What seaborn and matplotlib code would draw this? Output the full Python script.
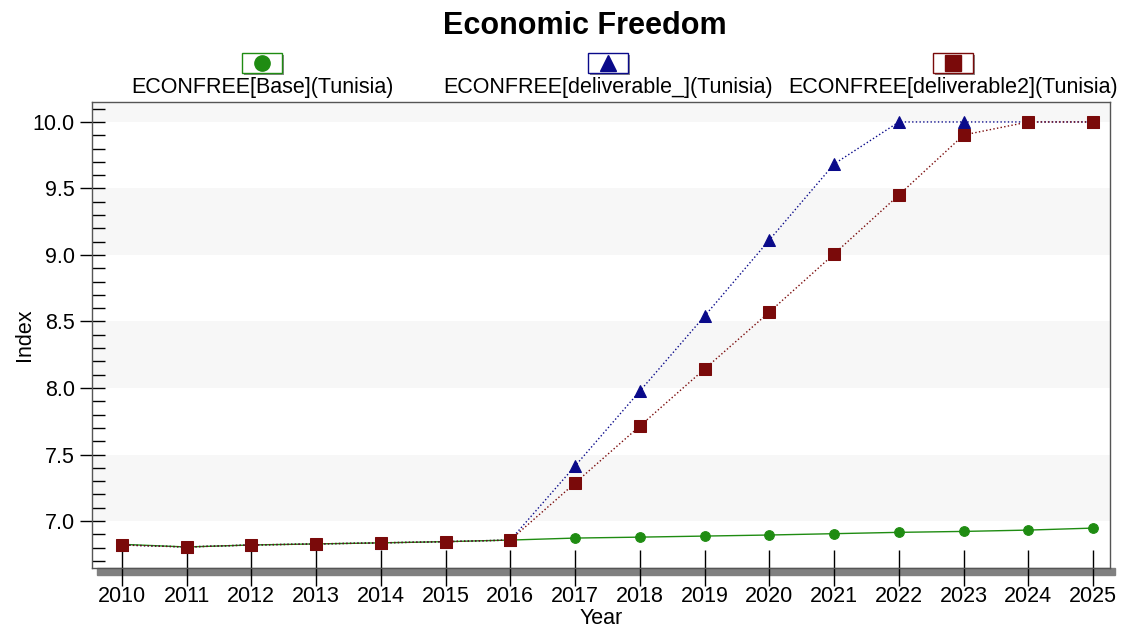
import numpy as np
import pandas as pd
import seaborn as sns
import matplotlib.pyplot as plt
from matplotlib.patches import Rectangle
from matplotlib.lines import Line2D
from matplotlib.ticker import MultipleLocator

years = list(range(2010, 2026))
base = [6.825, 6.805, 6.82, 6.828, 6.836, 6.845, 6.857, 6.872, 6.879, 6.887,
        6.895, 6.905, 6.915, 6.922, 6.932, 6.947]
deliverable = [6.82, 6.805, 6.82, 6.828, 6.836, 6.845, 6.857, 7.414, 7.977, 8.541,
               9.113, 9.684, 10.0, 10.0, 10.0, 10.0]
deliverable2 = [6.82, 6.805, 6.82, 6.828, 6.836, 6.845, 6.857, 7.286, 7.714, 8.143,
                8.571, 9.008, 9.451, 9.902, 10.0, 10.0]

labels = ["ECONFREE[Base](Tunisia)", "ECONFREE[deliverable_](Tunisia)",
          "ECONFREE[deliverable2](Tunisia)"]
colors = ["#1f8c12", "#0a0a8a", "#7a0a0a"]
markers = ["o", "^", "s"]
styles = ["-", ":", ":"]

sns.set_style("white")
plt.rcParams['font.family'] = ['Liberation Sans', 'DejaVu Sans']
plt.rcParams['text.color'] = 'black'
plt.rcParams['axes.labelcolor'] = 'black'
plt.rcParams['xtick.color'] = 'black'
plt.rcParams['ytick.color'] = 'black'

fig = plt.figure(figsize=(11.26, 6.28), dpi=100)
ax = fig.add_axes([92 / 1126, 1 - 568 / 628, (1110 - 92) / 1126, (568 - 102) / 628])

# alternating bands
for lo in [7.0, 8.0, 9.0, 10.0]:
    ax.axhspan(lo, lo + 0.5, color="#f7f7f7", zorder=0, lw=0)

series = [base, deliverable, deliverable2]
for i in range(3):
    df = pd.DataFrame({"Year": years, "Index": series[i]})
    sns.lineplot(data=df, x="Year", y="Index", ax=ax, color=colors[i],
                 linestyle=styles[i], lw=1, marker=markers[i], markersize=8 if i != 0 else 7,
                 markeredgecolor=colors[i], zorder=3 + i)

ax.set_xlim(2009.54, 2025.26)
ax.set_ylim(6.647, 10.15)
ax.set_xticks(years)
ax.yaxis.set_major_locator(MultipleLocator(0.5))
ax.yaxis.set_minor_locator(MultipleLocator(0.1))
ax.yaxis.set_major_formatter(plt.FuncFormatter(lambda v, p: f"{v:.1f}"))
ax.tick_params(axis="x", direction="inout", length=26, width=1, labelsize=15.5, pad=0, bottom=True)
ax.tick_params(axis="y", which="major", direction="inout", length=18, width=1, labelsize=15.5, left=True)
ax.tick_params(axis="y", which="minor", direction="in", length=9, width=1, left=True)
ax.set_xlabel("Year", fontsize=15.5, labelpad=1)
ax.set_ylabel("Index", fontsize=15.5, labelpad=-2)
for s in ax.spines.values():
    s.set_color("#555555")
    s.set_linewidth(1)

# shadow under the plot
ax.add_patch(Rectangle((0.005, -0.016), 1.0, 0.016, transform=ax.transAxes,
                       color="#808080", clip_on=False, zorder=0))

fig.text(585 / 1126, 1 - 26 / 628, "Economic Freedom", ha="center", va="center",
         fontsize=22, fontweight="bold")

# legend: marker box above each label
leg_x = [262, 608, 953]
for i in range(3):
    cx = leg_x[i] / 1126
    fig.text(cx, 1 - 87 / 628, labels[i], ha="center", va="center", fontsize=15.5)
    w, h = 40 / 1126, 20 / 628
    fig.add_artist(Rectangle((cx - w / 2 + 2 / 1126, 1 - 75 / 628), w, h, transform=fig.transFigure,
                             facecolor="#888888", edgecolor="none"))
    fig.add_artist(Rectangle((cx - w / 2, 1 - 73 / 628), w, h, transform=fig.transFigure,
                             facecolor="white", edgecolor=colors[i], lw=1))
    fig.add_artist(Line2D([cx], [1 - 63 / 628], transform=fig.transFigure, marker=markers[i],
                          color=colors[i], markersize=11, linestyle="none"))

fig.savefig("out.png", dpi=100)
